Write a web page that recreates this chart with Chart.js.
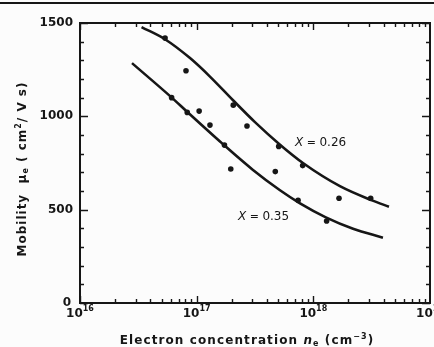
<!DOCTYPE html>
<html>
<head>
<meta charset="utf-8">
<script src="https://cdn.jsdelivr.net/npm/chart.js@4.4.1/dist/chart.umd.min.js"></script>
<style>
  html, body { margin: 0; padding: 0; background: #fcfcfc; }
  #wrap { width: 434px; height: 347px; position: relative; }
</style>
</head>
<body>
<div id="wrap"><canvas id="c" width="434" height="347"></canvas></div>
<script>
// Electron mobility vs. electron concentration for two alloy compositions
const xExponents = [16, 17, 18, 19];          // decade tick labels, 10^n
const yTickLabels = [0, 500, 1000, 1500];     // labelled mobility ticks
const yMinorStep = 100;

// fitted curve, X = 0.26
const curve026N  = [3.37e16, 5.35e16, 8.77e16, 1.30e17, 2.05e17, 3.16e17, 5.18e17, 8.15e17, 1.69e18, 3.18e18, 4.45e18];
const curve026Mu = [1478, 1413, 1312, 1213, 1086, 969, 848, 750, 626, 550, 516];

// fitted curve, X = 0.35
const curve035N  = [2.79e16, 6.15e16, 8.26e16, 1.68e17, 3.04e17, 5.18e17, 7.69e17, 1.28e18, 2.19e18, 3.95e18];
const curve035Mu = [1285, 1099, 1025, 851, 713, 604, 534, 459, 398, 350];

// measured samples
const sampleN  = [5.36e16, 8.1e16, 6.1e16, 8.3e16, 1.05e17, 1.3e17, 2.06e17, 2.7e17, 1.73e17, 1.96e17, 5.05e17, 4.72e17, 8.1e17, 7.4e17, 1.66e18, 1.30e18, 3.1e18];
const sampleMu = [1419, 1244, 1100, 1021, 1028, 953, 1060, 948, 846, 718, 839, 704, 736, 550, 561, 439, 561];

const curveLabels = [
  { text: '0.26', n: 6.97e17, mu: 857 },
  { text: '0.35', n: 2.26e17, mu: 461 }
];

const toXY = (xs, ys) => xs.map((v, i) => ({ x: v, y: ys[i] }));
const INK = '#161616';
const FONT = '"DejaVu Sans", Verdana, sans-serif';

const axesPlugin = {
  id: 'frameAxes',
  afterDraw(chart) {
    const ctx = chart.ctx;
    const xs = chart.scales.x, ys = chart.scales.y;
    const L = xs.left, R = xs.right, T = ys.top, B = ys.bottom;
    ctx.save();

    // rule across the top of the figure
    ctx.fillStyle = INK;
    ctx.fillRect(0, 2, 434, 2);

    // frame
    ctx.strokeStyle = INK;
    ctx.lineWidth = 2;
    ctx.strokeRect(L, T, R - L, B - T);

    // x ticks (log decades with minor ticks), inward on bottom and top
    ctx.lineWidth = 1.4;
    for (let e = xExponents[0]; e < xExponents[xExponents.length - 1]; e++) {
      for (let m = 1; m <= 9; m++) {
        const px = Math.round(xs.getPixelForValue(m * Math.pow(10, e))) + 0.5;
        const len = m === 1 ? 7 : 4;
        ctx.beginPath();
        ctx.moveTo(px, B); ctx.lineTo(px, B - len);
        ctx.moveTo(px, T); ctx.lineTo(px, T + len);
        ctx.stroke();
      }
    }

    // y ticks every 100, inward on left and right
    for (let v = ys.min; v <= ys.max; v += yMinorStep) {
      const py = Math.round(ys.getPixelForValue(v)) + 0.5;
      const len = v % 500 === 0 ? 8 : 4;
      ctx.beginPath();
      ctx.moveTo(L, py); ctx.lineTo(L + len, py);
      ctx.moveTo(R, py); ctx.lineTo(R - len, py);
      ctx.stroke();
    }

    // y tick labels
    ctx.fillStyle = INK;
    ctx.font = 'bold 12px ' + FONT;
    ctx.textAlign = 'right';
    ctx.textBaseline = 'middle';
    yTickLabels.forEach(v => {
      const x = v === 0 ? L - 9 : L - 7;
      ctx.fillText(String(v), x, ys.getPixelForValue(v));
    });

    // x tick labels: 10 with superscript exponent
    xExponents.forEach(e => {
      const px = xs.getPixelForValue(Math.pow(10, e));
      ctx.font = 'bold 12px ' + FONT;
      const wBase = ctx.measureText('10').width;
      ctx.font = 'bold 8px ' + FONT;
      const wExp = ctx.measureText(String(e)).width;
      const start = px - (wBase + wExp) / 2;
      ctx.textAlign = 'left';
      ctx.textBaseline = 'alphabetic';
      ctx.font = 'bold 12px ' + FONT;
      ctx.fillText('10', start, B + 14);
      ctx.font = 'bold 8px ' + FONT;
      ctx.fillText(String(e), start + wBase, B + 8);
    });

    // draws a run of differently styled text pieces on one baseline
    const drawRun = (parts, x, y, align, spacing) => {
      const sp = spacing || 0;
      const widthOf = p => { ctx.font = p.font; return ctx.measureText(p.t).width + sp * p.t.length; };
      let total = 0;
      parts.forEach(p => { total += widthOf(p); });
      let cx = align === 'center' ? x - total / 2 : x;
      parts.forEach(p => {
        ctx.font = p.font;
        if (sp) {
          for (const ch of p.t) {
            ctx.fillText(ch, cx, y + (p.dy || 0));
            cx += ctx.measureText(ch).width + sp;
          }
        } else {
          ctx.fillText(p.t, cx, y + (p.dy || 0));
          cx += ctx.measureText(p.t).width;
        }
      });
    };

    // x axis title
    ctx.textAlign = 'left';
    ctx.textBaseline = 'alphabetic';
    const f12 = 'bold 12px ' + FONT, f12i = 'italic bold 12px ' + FONT, f8 = 'bold 8px ' + FONT;
    drawRun([
      { t: 'Electron concentration ', font: f12 },
      { t: 'n', font: f12i },
      { t: 'e', font: f8, dy: 2 },
      { t: ' (cm', font: f12 },
      { t: '−3', font: f8, dy: -5 },
      { t: ')', font: f12 }
    ], 247, 344, 'center', 1.1);

    // y axis title, rotated
    ctx.save();
    ctx.translate(22, 169);
    ctx.rotate(-Math.PI / 2);
    drawRun([
      { t: 'Mobility  ', font: f12 },
      { t: 'μ', font: f12 },
      { t: 'e', font: f8, dy: 2 },
      { t: ' ( cm', font: f12 },
      { t: '2', font: f8, dy: -5 },
      { t: '/ V s)', font: f12 }
    ], 0, 4, 'center', 1);
    ctx.restore();

    // curve annotations
    ctx.textBaseline = 'middle';
    curveLabels.forEach(c => {
      const px = xs.getPixelForValue(c.n), py = ys.getPixelForValue(c.mu);
      drawRun([
        { t: 'X', font: 'italic 12px ' + FONT },
        { t: ' = ', font: '11px ' + FONT },
        { t: c.text, font: '12px ' + FONT }
      ], px, py, 'left');
    });

    ctx.restore();
  }
};

new Chart(document.getElementById('c'), {
  type: 'scatter',
  data: {
    datasets: [
      {
        label: 'X = 0.26',
        data: toXY(curve026N, curve026Mu),
        showLine: true, pointRadius: 0,
        borderColor: INK, borderWidth: 2.6,
        cubicInterpolationMode: 'monotone'
      },
      {
        label: 'X = 0.35',
        data: toXY(curve035N, curve035Mu),
        showLine: true, pointRadius: 0,
        borderColor: INK, borderWidth: 2.6,
        cubicInterpolationMode: 'monotone'
      },
      {
        label: 'samples',
        data: toXY(sampleN, sampleMu),
        showLine: false, pointRadius: 2.8,
        pointBackgroundColor: INK, pointBorderColor: INK, pointBorderWidth: 0
      }
    ]
  },
  options: {
    responsive: false,
    animation: false,
    layout: { padding: { left: 80, right: 4, top: 23, bottom: 44 } },
    plugins: { legend: { display: false }, tooltip: { enabled: false } },
    scales: {
      x: { type: 'logarithmic', min: 1e16, max: 1e19, display: false },
      y: { type: 'linear', min: 0, max: 1500, display: false }
    }
  },
  plugins: [axesPlugin]
});
</script>
</body>
</html>
